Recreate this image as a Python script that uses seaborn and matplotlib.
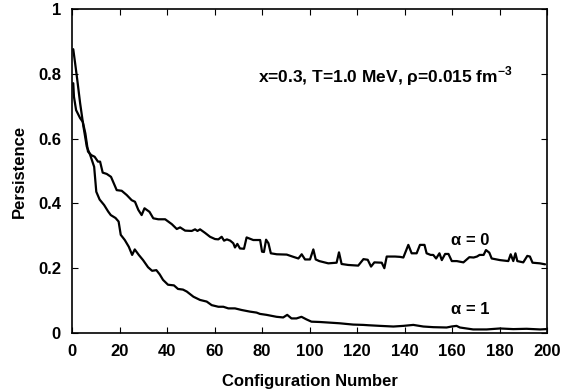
import matplotlib
matplotlib.use("Agg")
import matplotlib.pyplot as plt
import seaborn as sns
import pandas as pd

# persistence vs configuration number
alpha0_x = [0.5, 0.8, 1.7, 3.4, 4.5, 5.6, 6.7, 8.1, 9.5, 10.9, 11.8, 12.9, 14.6, 16.4,
            18.8, 20.9, 23.0, 25.1, 26.5, 27.9, 29.3, 30.5, 32.6, 34.2, 36.3, 39.2,
            42.0, 44.1, 45.5, 47.6, 50.4, 51.8, 52.8, 53.9, 56.0, 58.1, 60.2, 61.6,
            63.0, 64.0, 65.2, 66.6, 67.9, 68.6, 69.6, 70.7, 72.4, 73.5, 74.9, 76.3,
            79.2, 80.0, 80.8, 81.7, 82.7, 83.7, 86.2, 90.4, 93.2, 95.3, 96.7, 98.1,
            100.2, 101.6, 102.6, 104.1, 107.9, 111.4, 112.4, 113.5, 116.3, 120.5,
            122.7, 124.5, 125.9, 127.3, 130.4, 131.5, 132.5, 136.0, 138.1, 139.5,
            141.6, 143.0, 145.1, 146.5, 148.4, 149.3, 151.0, 152.1, 153.3, 154.7,
            155.7, 157.1, 158.5, 159.9, 162.0, 164.8, 167.3, 169.1, 170.5, 171.6,
            173.3, 174.3, 175.7, 176.7, 180.2, 183.7, 184.7, 185.8, 186.7, 187.5,
            190.0, 191.7, 192.8, 193.9, 197.0, 199.2]
alpha0_y = [0.771, 0.729, 0.688, 0.663, 0.652, 0.616, 0.560, 0.549, 0.544, 0.529, 0.529,
            0.495, 0.491, 0.482, 0.441, 0.439, 0.426, 0.410, 0.405, 0.380, 0.364, 0.385,
            0.374, 0.354, 0.351, 0.351, 0.336, 0.321, 0.326, 0.316, 0.315, 0.320, 0.315,
            0.320, 0.309, 0.297, 0.290, 0.289, 0.297, 0.285, 0.289, 0.285, 0.277, 0.264,
            0.275, 0.261, 0.260, 0.295, 0.291, 0.287, 0.287, 0.251, 0.250, 0.288, 0.277,
            0.246, 0.243, 0.242, 0.235, 0.230, 0.243, 0.227, 0.227, 0.258, 0.227, 0.222,
            0.215, 0.217, 0.249, 0.213, 0.210, 0.208, 0.228, 0.226, 0.205, 0.218, 0.217,
            0.200, 0.236, 0.236, 0.235, 0.233, 0.272, 0.246, 0.246, 0.272, 0.272, 0.246,
            0.241, 0.241, 0.230, 0.246, 0.225, 0.244, 0.244, 0.222, 0.222, 0.218, 0.234,
            0.233, 0.236, 0.241, 0.241, 0.256, 0.248, 0.230, 0.225, 0.222, 0.243, 0.222,
            0.246, 0.222, 0.218, 0.238, 0.236, 0.217, 0.215, 0.212]

alpha1_x = [0.5, 1.3, 2.2, 3.4, 4.8, 6.2, 7.6, 9.3, 10.2, 11.6, 13.5, 15.2, 16.3, 18.3,
            19.6, 20.5, 22.2, 23.9, 25.3, 26.4, 28.1, 29.9, 32.0, 33.7, 35.5, 36.9,
            38.3, 40.4, 42.9, 44.6, 46.7, 48.3, 51.1, 53.9, 56.7, 58.8, 61.6, 63.7,
            65.8, 68.6, 71.4, 74.9, 77.7, 79.1, 81.9, 86.1, 88.9, 90.6, 92.4, 94.5,
            96.6, 98.7, 100.8, 104.3, 108.5, 112.7, 115.5, 118.4, 122.6, 124.7, 129.7,
            135.3, 139.5, 143.7, 147.9, 152.1, 157.7, 159.8, 161.9, 163.3, 168.9,
            174.6, 180.2, 185.8, 191.4, 197.1, 199.6]
alpha1_y = [0.876, 0.832, 0.781, 0.709, 0.637, 0.575, 0.550, 0.513, 0.436, 0.412, 0.395,
            0.375, 0.364, 0.355, 0.344, 0.303, 0.287, 0.266, 0.241, 0.258, 0.241, 0.225,
            0.203, 0.192, 0.194, 0.181, 0.164, 0.149, 0.147, 0.136, 0.134, 0.128, 0.112,
            0.102, 0.097, 0.086, 0.081, 0.081, 0.076, 0.076, 0.071, 0.066, 0.063, 0.059,
            0.056, 0.050, 0.048, 0.056, 0.045, 0.045, 0.050, 0.042, 0.035, 0.034, 0.032,
            0.030, 0.028, 0.026, 0.025, 0.024, 0.022, 0.020, 0.022, 0.025, 0.020, 0.018,
            0.017, 0.020, 0.022, 0.017, 0.011, 0.011, 0.014, 0.012, 0.013, 0.011, 0.012]

x_ticks = [0, 20, 40, 60, 80, 100, 120, 140, 160, 180, 200]
y_ticks = [0, 0.2, 0.4, 0.6, 0.8, 1.0]
y_tick_labels = ["0", "0.2", "0.4", "0.6", "0.8", "1"]

sns.set_style("ticks")
plt.rcParams["font.family"] = ["Liberation Sans", "DejaVu Sans"]
plt.rcParams["font.weight"] = "bold"
plt.rcParams["text.color"] = "black"
plt.rcParams["axes.labelcolor"] = "black"
plt.rcParams["mathtext.fontset"] = "custom"
plt.rcParams["mathtext.rm"] = "Liberation Sans:bold"
plt.rcParams["mathtext.bf"] = "Liberation Sans:bold"

df = pd.concat([
    pd.DataFrame({"config": alpha0_x, "persistence": alpha0_y, "alpha": "0"}),
    pd.DataFrame({"config": alpha1_x, "persistence": alpha1_y, "alpha": "1"}),
])

fig = plt.figure(figsize=(5.63, 3.92), dpi=100)
ax = fig.add_axes([0.128, 0.1505, 0.8436, 0.8265])

sns.lineplot(data=df, x="config", y="persistence", hue="alpha", estimator=None,
             sort=False, palette=["black", "black"], linewidth=1.6, legend=False, ax=ax)

ax.set_xlim(0, 200)
ax.set_ylim(0, 1)
ax.set_xticks(x_ticks)
ax.set_yticks(y_ticks)
ax.set_yticklabels(y_tick_labels)
ax.tick_params(direction="in", length=4, width=0.8, top=True, right=True,
               labelsize=12, pad=8, colors="black")
for lbl in ax.get_xticklabels() + ax.get_yticklabels():
    lbl.set_fontweight("bold")
for sp in ax.spines.values():
    sp.set_linewidth(1.2)
    sp.set_color("black")

ax.set_xlabel("Configuration Number", fontsize=12, fontweight="bold", labelpad=11)
ax.set_ylabel("Persistence", fontsize=12, fontweight="bold", labelpad=8)

ax.text(185.7, 0.775, "x=0.3, T=1.0 MeV, \u03c1=0.015 fm$^{-3}$", fontsize=12.5,
        fontweight="bold", ha="right", va="baseline")
ax.text(159.6, 0.287, "\u03b1 = 0", fontsize=12, fontweight="bold", ha="left", va="center")
ax.text(159.6, 0.074, "\u03b1 = 1", fontsize=12, fontweight="bold", ha="left", va="center")

fig.savefig("out.png", dpi=100)
